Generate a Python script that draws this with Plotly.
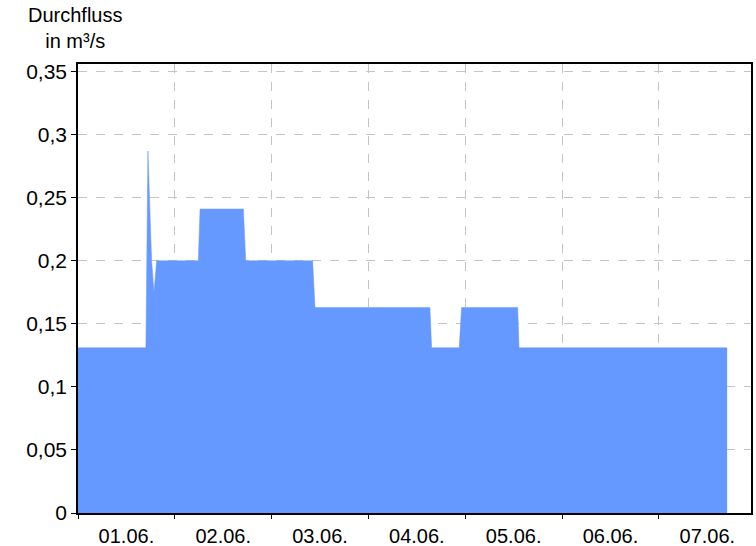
import plotly.graph_objects as go

# Step-wise discharge series (time, value in m³/s)
times = [
    "2023-06-01 00:00", "2023-06-01 16:50", "2023-06-01 17:20", "2023-06-01 18:15",
    "2023-06-01 18:50", "2023-06-01 19:30", "2023-06-02 05:50", "2023-06-02 06:15",
    "2023-06-02 17:00", "2023-06-02 17:35", "2023-06-03 10:10", "2023-06-03 10:45",
    "2023-06-04 15:15", "2023-06-04 15:40", "2023-06-04 22:30", "2023-06-04 23:05",
    "2023-06-05 13:00", "2023-06-05 13:20", "2023-06-07 16:55",
]
flow = [
    0.131, 0.131, 0.287, 0.200,
    0.175, 0.200, 0.200, 0.241,
    0.241, 0.200, 0.200, 0.163,
    0.163, 0.131, 0.131, 0.163,
    0.163, 0.131, 0.131,
]

y_tickvals = [0, 0.05, 0.1, 0.15, 0.2, 0.25, 0.3, 0.35]
y_ticktext = ["0", "0,05", "0,1", "0,15", "0,2", "0,25", "0,3", "0,35"]
x_range = ["2023-06-01 00:00", "2023-06-07 22:50"]
y_range = [0, 0.356]

font_family = "Liberation Sans, Arial, sans-serif"

fig = go.Figure()
fig.add_trace(go.Scatter(
    x=times, y=flow, mode="lines", fill="tozeroy",
    line=dict(color="#6699ff", width=0.5),
    fillcolor="#6699ff", hoverinfo="skip", showlegend=False,
))

fig.update_layout(
    width=756, height=546,
    margin=dict(l=78, r=5, t=64, b=33, autoexpand=False),
    paper_bgcolor="white", plot_bgcolor="white",
    font=dict(family=font_family, size=20, color="black"),
    separators=",.",
    showlegend=False,
)

fig.update_xaxes(
    type="date", range=x_range, automargin=False,
    dtick=86400000, tick0="2023-06-01", tickformat="%d.%m.",
    ticklabelmode="period",
    showgrid=True, gridcolor="#c4c4c4", griddash="dash", gridwidth=1,
    showline=True, linecolor="black", linewidth=1.5, mirror=True,
    ticks="outside", ticklen=4, tickcolor="black",
    tickfont=dict(size=20, family=font_family, color="black"),
    zeroline=False,
)
fig.update_yaxes(
    range=y_range, tickvals=y_tickvals, ticktext=y_ticktext, automargin=False,
    showgrid=True, gridcolor="#c4c4c4", griddash="dash", gridwidth=1,
    showline=True, linecolor="black", linewidth=1.5, mirror=True,
    ticks="outside", ticklen=5, tickcolor="black",
    tickfont=dict(size=21, family=font_family, color="black"),
    zeroline=False,
)

fig.add_annotation(
    text="Durchfluss<br>in m³/s", xref="paper", yref="paper",
    x=(75 - 78) / (756 - 78 - 5), y=1,
    xanchor="center", yanchor="bottom", yshift=10,
    showarrow=False, align="center",
    font=dict(size=20, family=font_family, color="black"),
)

fig.write_html(
    "out.html",
    config={"displayModeBar": False},
    post_script="document.body.style.margin='0';document.body.style.overflow='hidden';",
)
